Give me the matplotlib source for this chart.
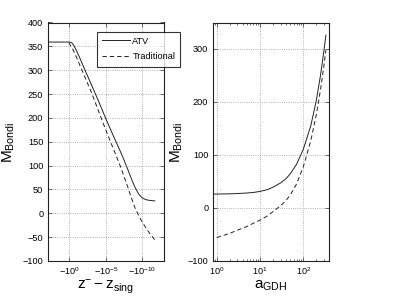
import numpy as np
import matplotlib
matplotlib.use('Agg')
import matplotlib.pyplot as plt
from matplotlib.ticker import FixedLocator, NullLocator, LogLocator

plt.rcParams['font.family'] = ['Liberation Sans', 'DejaVu Sans']
plt.rcParams['mathtext.fontset'] = 'custom'
plt.rcParams['mathtext.rm'] = 'Liberation Sans'
plt.rcParams['mathtext.it'] = 'Liberation Sans:italic'
plt.rcParams['axes.unicode_minus'] = True

# left panel: log10 of (z_sing - z^-) and M_Bondi
atv_exp = [3.0, 0.0, -0.3, -0.6, -1.0, -1.5, -2, -3, -4, -5, -6, -7, -7.5, -8, -8.5,
           -9, -9.5, -10, -10.5, -11, -11.7]
atv_m = [359, 359, 358, 352, 340, 323, 305, 270, 235, 198, 163, 129, 111, 92, 72,
         54, 40, 32, 28.5, 27, 26]
trad_exp = [0.1, -0.5, -1, -2, -3, -4, -5, -6, -7, -8, -8.5, -9, -9.5, -10, -10.5,
            -11, -11.7]
trad_m = [358, 343, 326, 290, 254, 214, 174, 136, 98, 55, 32, 11, -5, -19, -31,
          -42, -56]

# right panel: a_GDH and M_Bondi
a_atv = [0.8, 1, 2, 3, 5, 7, 10, 15, 20, 30, 40, 50, 70, 100, 150, 200, 250, 300, 333]
m_atv = [26, 26, 26.5, 27, 28, 29, 31, 34.5, 39, 47, 55, 64, 82, 110, 155, 202, 249,
         295, 325]
a_trad = [1, 2, 3, 5, 7, 10, 15, 20, 30, 40, 50, 70, 100, 150, 200, 250, 300, 333]
m_trad = [-56, -48, -42, -35, -29, -23, -15, -7, 4, 14, 24, 45, 77, 127, 175, 222,
          267, 297]

W, H = 405, 304
fig = plt.figure(figsize=(W / 100, H / 100), dpi=100)
ax1 = fig.add_axes([47.5 / W, 1 - 261 / H, 116.8 / W, 238.5 / H])
ax2 = fig.add_axes([212.5 / W, 1 - 261 / H, 116.8 / W, 238.5 / H])

lw = 0.7
dash = (0, (4.5, 3))
fs = 6.6
lab = 11

ax1.plot(10.0 ** np.array(atv_exp), atv_m, color='#222222', lw=lw, label='ATV')
ax1.plot(10.0 ** np.array(trad_exp), trad_m, color='#222222', lw=lw, ls=dash,
         label='Traditional')
ax1.set_xscale('log')
ax1.set_xlim(1e3, 1e-13)
ax1.set_ylim(-100, 400)
ax1.xaxis.set_major_locator(FixedLocator([1e0, 1e-5, 1e-10]))
ax1.xaxis.set_minor_locator(NullLocator())
ax1.set_xticklabels([r'$-10^{0}$', r'$-10^{-5}$', r'$-10^{-10}$'])
ax1.set_yticks(np.arange(-100, 401, 50))
ax1.set_xlabel(r'$\mathrm{z^{-} - z_{sing}}$', fontsize=lab, labelpad=1)
ax1.set_ylabel(r'$\mathrm{M_{Bondi}}$', fontsize=lab, labelpad=4)

leg = ax1.legend(loc='upper left', bbox_to_anchor=(0.424, 0.962), fontsize=fs,
                 frameon=True, fancybox=False, handlelength=3.0, handletextpad=0.3,
                 labelspacing=0.75, borderpad=0.55, borderaxespad=0)
leg.get_frame().set_edgecolor('black')
leg.get_frame().set_linewidth(0.8)
leg.set_zorder(10)

ax2.plot(a_atv, m_atv, color='#222222', lw=lw)
ax2.plot(a_trad, m_trad, color='#222222', lw=lw, ls=dash)
ax2.set_xscale('log')
ax2.set_xlim(0.8, 400)
ax2.set_ylim(-100, 349)
ax2.xaxis.set_major_locator(LogLocator(base=10, numticks=10))
ax2.xaxis.set_minor_locator(LogLocator(base=10, subs=np.arange(2, 10), numticks=10))
ax2.set_yticks([-100, 0, 100, 200, 300])
ax2.set_xlabel(r'$\mathrm{a_{GDH}}$', fontsize=lab, labelpad=1)
ax2.set_ylabel(r'$\mathrm{M_{Bondi}}$', fontsize=lab, labelpad=2)

for ax in (ax1, ax2):
    ax.grid(True, which='major', ls=':', color='#999999', lw=0.6)
    ax.tick_params(which='both', direction='in', top=True, right=True,
                   labelsize=fs, pad=3, width=0.5, color='#333333')
    ax.tick_params(which='major', length=3)
    ax.tick_params(which='minor', length=1.5)
    for s in ax.spines.values():
        s.set_linewidth(0.8)
        s.set_color('#222222')

fig.savefig('out.png', dpi=100)
